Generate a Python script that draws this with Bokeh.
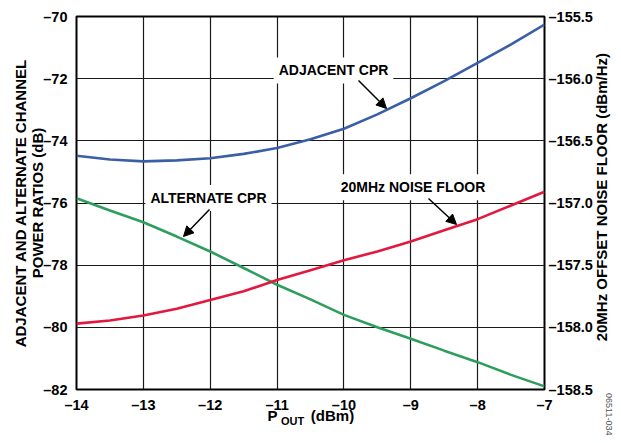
import math
from bokeh.plotting import figure
from bokeh.models import Range1d, LinearAxis, FixedTicker, Label, Arrow, NormalHead
from bokeh.embed import file_html
from bokeh.resources import INLINE

# ---- data ----
pout = [-14, -13.5, -13, -12.5, -12, -11.5, -11, -10.5, -10, -9.5, -9, -8.5, -8, -7.5, -7]
adjacent_cpr = [-74.48, -74.60, -74.66, -74.63, -74.56, -74.42, -74.23, -73.95,
                -73.61, -73.15, -72.63, -72.08, -71.49, -70.90, -70.26]
alternate_cpr = [-75.85, -76.24, -76.62, -77.08, -77.56, -78.09, -78.63, -79.10,
                 -79.60, -80.00, -80.37, -80.75, -81.12, -81.53, -81.90]
noise_floor = [-157.97, -157.945, -157.905, -157.85, -157.78, -157.71, -157.62, -157.54,
               -157.46, -157.39, -157.31, -157.22, -157.13, -157.02, -156.91]

x_ticks = [-14, -13, -12, -11, -10, -9, -8, -7]
y_ticks = [-82, -80, -78, -76, -74, -72, -70]
y2_ticks = [-158.5, -158.0, -157.5, -157.0, -156.5, -156.0, -155.5]

FONT = "Liberation Sans"
BLUE = "#3b5fa6"
GREEN = "#2e9e5e"
RED = "#e3183f"

def dash(v, fmt):
    return fmt.format(v).replace("-", "\u2013")

p = figure(width=621, height=443, output_backend="svg", toolbar_location=None,
           x_range=Range1d(-14, -7), y_range=Range1d(-82, -70),
           min_border_left=76, min_border_right=77, min_border_top=16, min_border_bottom=54)
p.extra_y_ranges = {"nf": Range1d(-158.5, -155.5)}

p.outline_line_color = "black"
p.outline_line_width = 2
p.background_fill_color = "white"
p.border_fill_color = "white"

for g in (p.xgrid, p.ygrid):
    g.grid_line_color = "#1a1a1a"
    g.grid_line_width = 1.2
p.xgrid.ticker = FixedTicker(ticks=x_ticks)
p.ygrid.ticker = FixedTicker(ticks=y_ticks)

def style_axis(ax, size="14.5px"):
    ax.major_tick_line_color = None
    ax.minor_tick_line_color = None
    ax.axis_line_color = None
    ax.major_label_text_font = FONT
    ax.major_label_text_font_style = "bold"
    ax.major_label_text_font_size = size
    ax.major_label_text_color = "black"
    ax.axis_label_text_font = FONT
    ax.axis_label_text_font_style = "bold"
    ax.axis_label_text_font_size = "15px"
    ax.axis_label_text_color = "black"

xa = p.xaxis[0]
style_axis(xa)
xa.ticker = FixedTicker(ticks=x_ticks)
xa.major_label_overrides = {t: dash(t, "{:d}") for t in x_ticks}
xa.major_label_standoff = 1

ya = p.yaxis[0]
style_axis(ya)
ya.ticker = FixedTicker(ticks=y_ticks)
ya.major_label_overrides = {t: dash(t, "{:d}") for t in y_ticks}
ya.major_label_standoff = 3
ya.axis_label = "ADJACENT AND ALTERNATE CHANNEL\nPOWER RATIOS (dB)"
ya.axis_label_text_line_height = 1.0
ya.axis_label_standoff = -6

# right axis: noise floor ticks
ra = LinearAxis(y_range_name="nf")
style_axis(ra)
ra.ticker = FixedTicker(ticks=y2_ticks)
ra.major_label_overrides = {t: dash(t, "{:.1f}") for t in y2_ticks}
ra.major_label_standoff = -2
p.add_layout(ra, "right")

# right axis title (reads bottom-to-top), carried by a rotated tick label
rt_pos = -80.45
rt = LinearAxis(ticker=FixedTicker(ticks=[rt_pos]))
style_axis(rt, size="15px")
rt.major_label_overrides = {rt_pos: "20MHz OFFSET NOISE FLOOR (dBm/Hz)"}
rt.major_label_orientation = math.pi / 2
rt.major_label_standoff = 0
p.add_layout(rt, "right")

# figure code text, rotated, in the lower right corner (pushed down by leading no-break spaces)
rc = LinearAxis(ticker=FixedTicker(ticks=[]))
style_axis(rc)
rc.axis_label = "\u00a0" * 76 + "06511-034"
rc.axis_label_text_font_style = "normal"
rc.axis_label_text_font_size = "9px"
rc.axis_label_text_color = "#555555"
rc.axis_label_orientation = -math.pi / 2
rc.axis_label_standoff = -13
p.add_layout(rc, "right")

# x-axis title P_OUT (dBm): pieces carried by tick labels of extra axes
xt1 = LinearAxis(ticker=FixedTicker(ticks=[-11.068, -10.171]))
style_axis(xt1, size="15px")
xt1.major_label_overrides = {-11.068: "P", -10.171: "(dBm)"}
xt1.major_label_standoff = -15
p.add_layout(xt1, "below")

xt2 = LinearAxis(ticker=FixedTicker(ticks=[-10.769]))
style_axis(xt2, size="11px")
xt2.major_label_overrides = {-10.769: "OUT"}
xt2.major_label_standoff = -18
p.add_layout(xt2, "below")

# curves
p.line(pout, adjacent_cpr, line_color=BLUE, line_width=2.6)
p.line(pout, alternate_cpr, line_color=GREEN, line_width=2.6)
p.line(pout, noise_floor, line_color=RED, line_width=2.6, y_range_name="nf")

def tag(x, y, text):
    p.add_layout(Label(x=x, y=y, text=text, text_align="center", text_baseline="middle",
                       text_font=FONT, text_font_style="bold", text_font_size="14px",
                       text_color="black", background_fill_color="white", padding=5))

tag(-10.156, -71.737, "ADJACENT CPR")
tag(-12.026, -75.839, "ALTERNATE CPR")
tag(-8.967, -75.492, "20MHz NOISE FLOOR")

def arrow(x0, y0, x1, y1):
    p.add_layout(Arrow(end=NormalHead(size=10, fill_color="black", line_color="black"),
                       x_start=x0, y_start=y0, x_end=x1, y_end=y1,
                       line_color="black", line_width=1.5))

arrow(-9.782, -72.059, -9.363, -72.960)
arrow(-12.011, -76.209, -12.400, -77.078)
arrow(-8.735, -75.855, -8.316, -76.692)

open("out.html", "w").write(file_html(p, INLINE))
